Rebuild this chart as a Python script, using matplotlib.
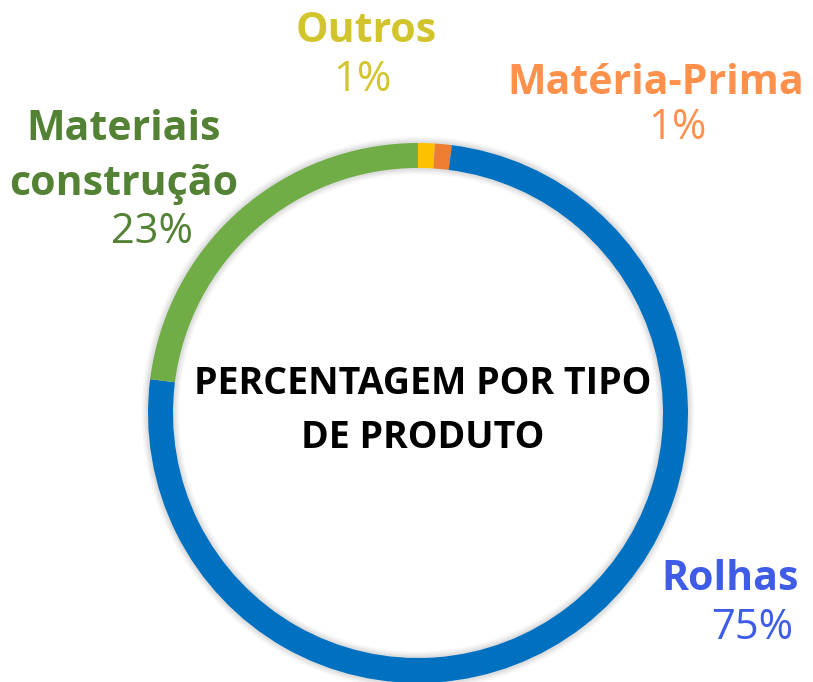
import matplotlib
matplotlib.use("Agg")
import matplotlib.pyplot as plt
from matplotlib.patches import Wedge

categories = ["Outros", "Matéria-Prima", "Rolhas", "Materiais\nconstrução"]
values = [1, 1, 75, 23]
slice_colors = ["#FFC000", "#ED7D31", "#0070C0", "#70AD47"]
label_colors = ["#D2C42C", "#FF914D", "#3F5CE8", "#548235"]
center_title = "PERCENTAGEM POR TIPO\nDE PRODUTO"

W, H = 813, 682
fig = plt.figure(figsize=(W / 100, H / 100), dpi=100)
ax = fig.add_axes([0, 0, 1, 1])
ax.set_xlim(0, W)
ax.set_ylim(0, H)
ax.set_aspect("equal")
ax.axis("off")

cx, cy = 418, H - 413
R, width = 270, 25

# soft shadow around ring
for i, a in enumerate([0.04, 0.035, 0.03, 0.025]):
    ax.add_patch(Wedge((cx, cy), R + 2 + i * 1.5, 0, 360,
                       width=width + 4 + i * 3, facecolor="#000000",
                       alpha=a, edgecolor="none", zorder=1))

ax.pie(values, colors=slice_colors, startangle=90, counterclock=False,
       radius=R, center=(cx, cy),
       wedgeprops=dict(width=width, edgecolor="none", linewidth=0),
       frame=True)
ax.set_xlim(0, W)
ax.set_ylim(0, H)
ax.axis("off")

font = "Open Sans"
# label positions (pixels, from top)
name_pos = [(366, 31), (656, 84), (730, 580), (124, 157)]
pct_pos = [(362, 80), (677, 128), (752, 628), (152, 232)]

for name, v, col, (nx, ny), (px, py) in zip(categories, values, label_colors,
                                            name_pos, pct_pos):
    ax.text(nx, H - ny, name, ha="center", va="center", fontsize=29.5,
            fontweight="bold", color=col, family=font, linespacing=1.42)
    ax.text(px, H - py, f"{v}%", ha="center", va="center", fontsize=30,
            color=col, family=font)

ax.text(423, H - 411, center_title, ha="center", va="center", fontsize=27,
        fontweight="bold", color="black", family=font, linespacing=1.54)

fig.savefig("out.png", dpi=100)
